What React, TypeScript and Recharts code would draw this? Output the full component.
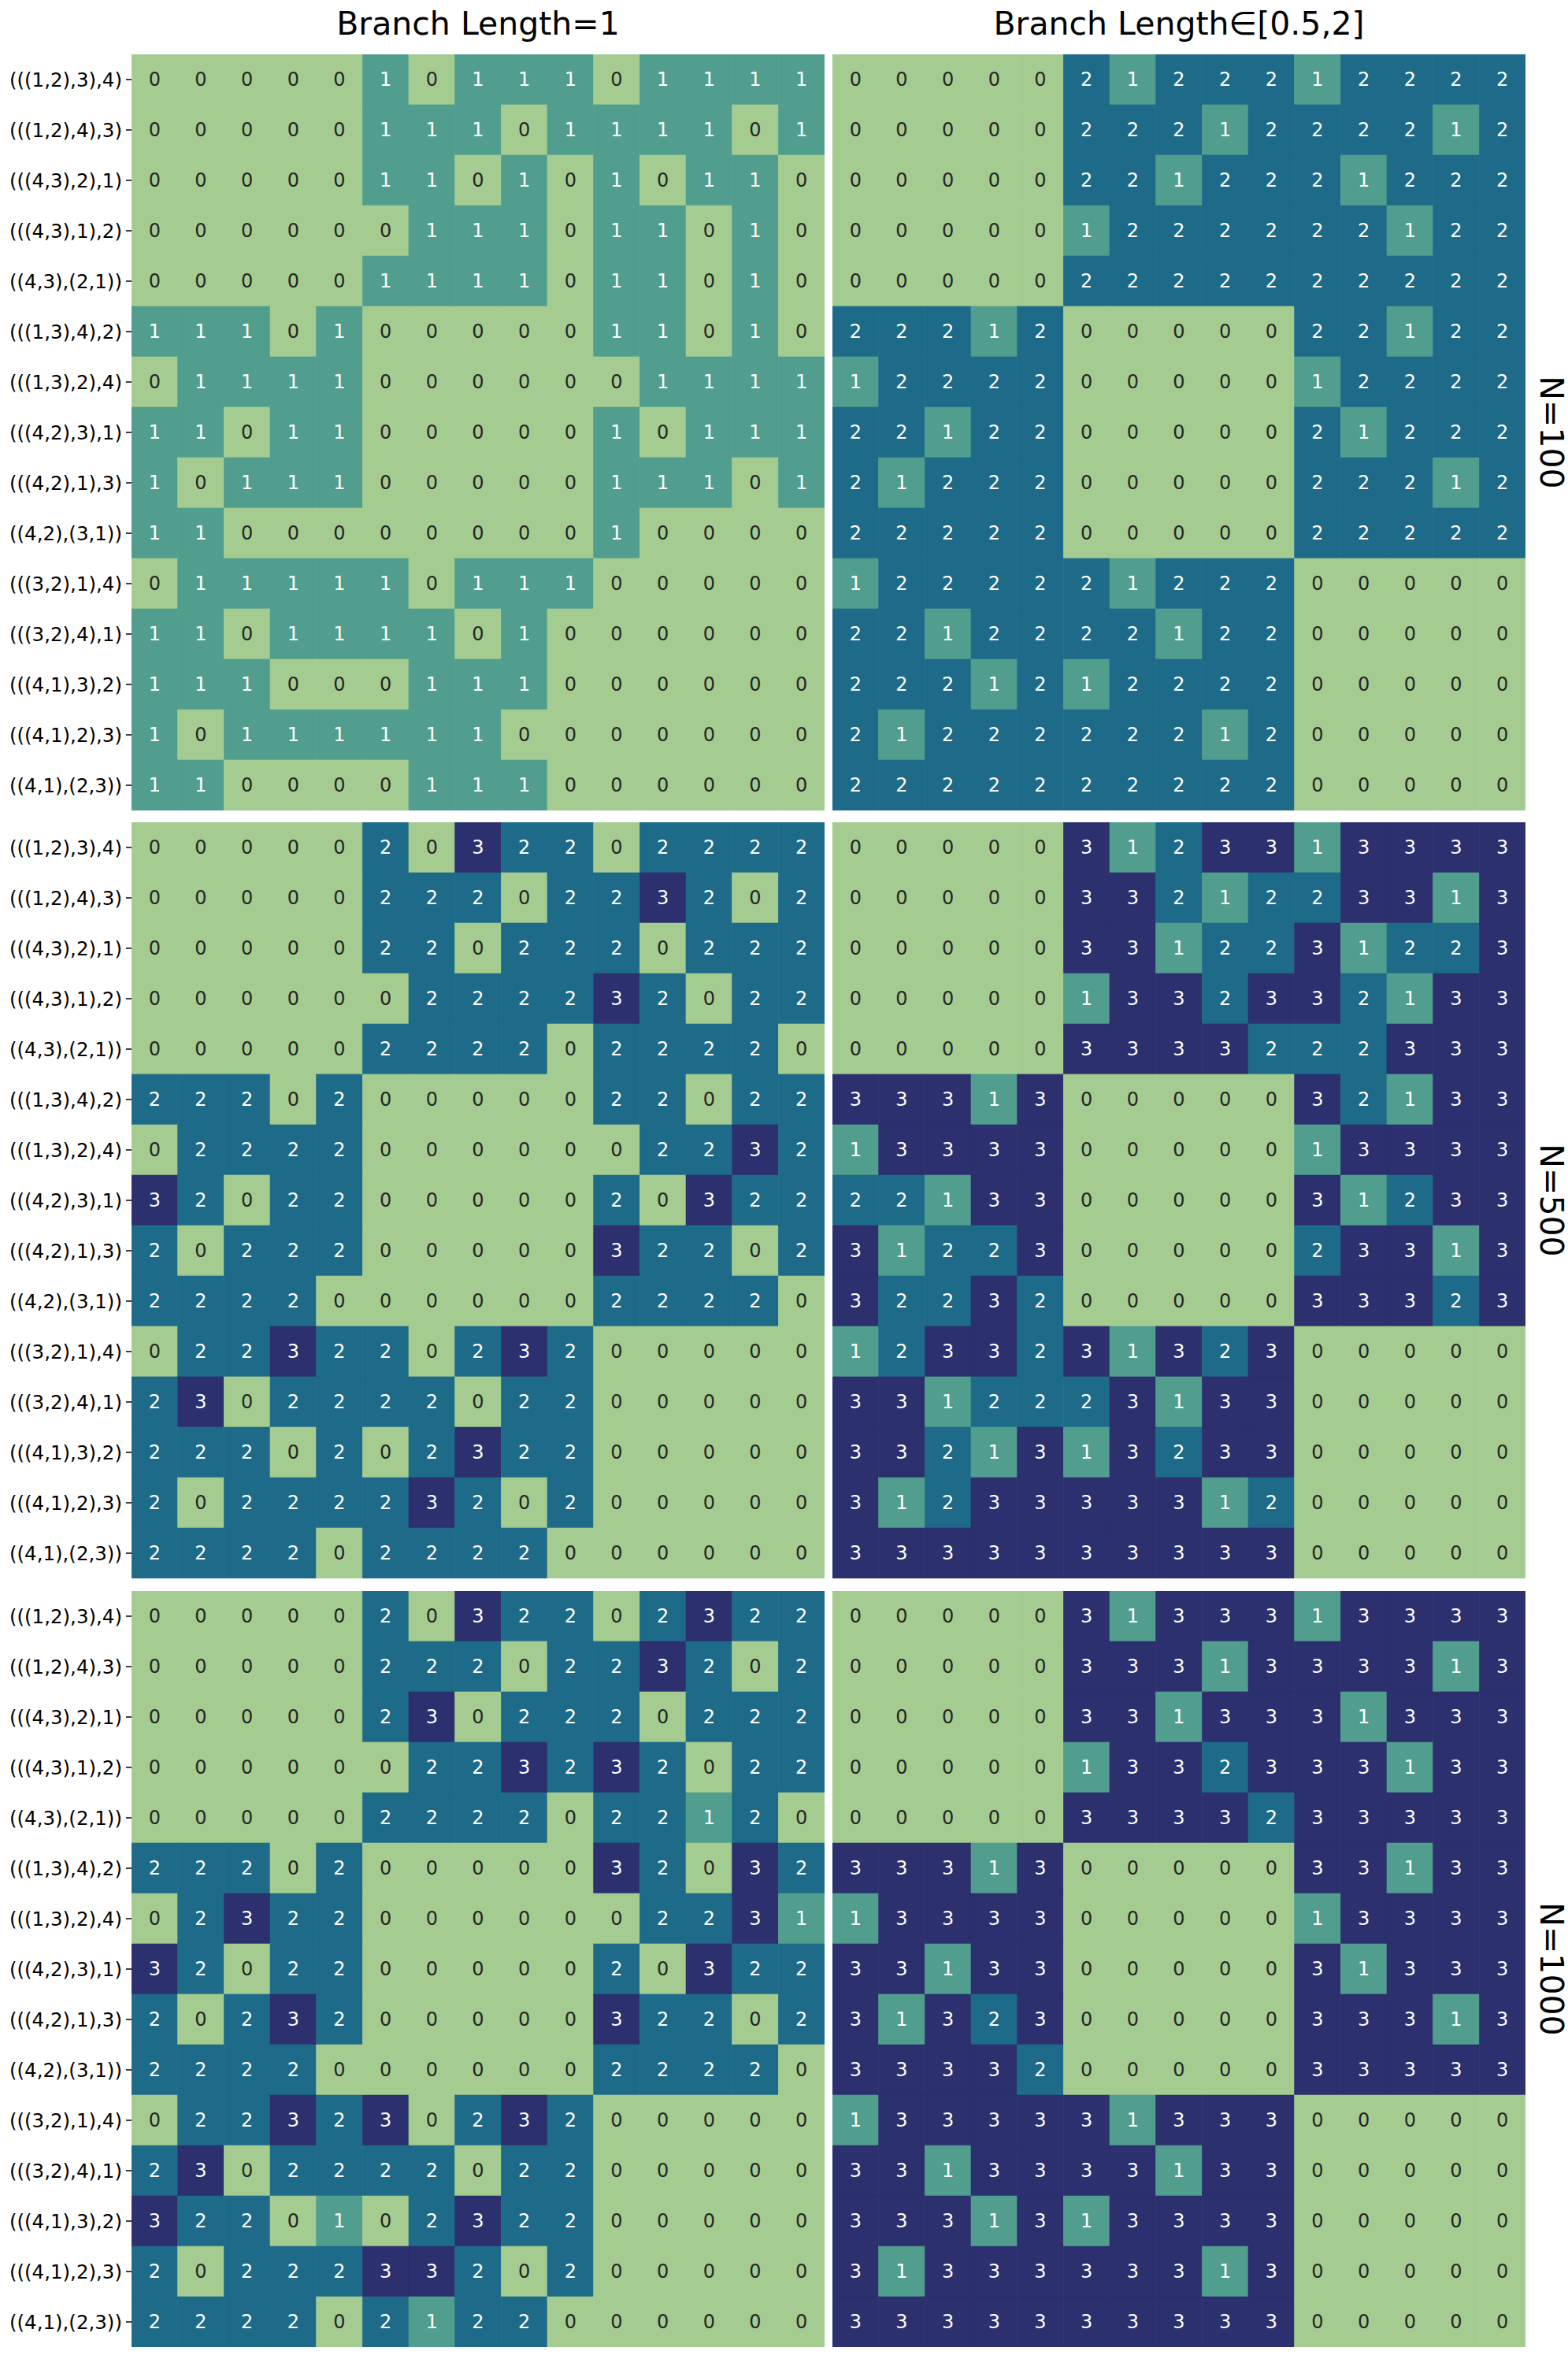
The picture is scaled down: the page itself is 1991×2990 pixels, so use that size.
import React from 'react';
import { ScatterChart, Scatter, XAxis, YAxis } from 'recharts';

// Topology labels shared by all panels (rows and columns in the same order)
const ROW_LABELS = [
  '(((1,2),3),4)', '(((1,2),4),3)', '(((4,3),2),1)', '(((4,3),1),2)', '((4,3),(2,1))',
  '(((1,3),4),2)', '(((1,3),2),4)', '(((4,2),3),1)', '(((4,2),1),3)', '((4,2),(3,1))',
  '(((3,2),1),4)', '(((3,2),4),1)', '(((4,1),3),2)', '(((4,1),2),3)', '((4,1),(2,3))',
];

const COLUMN_TITLES = ['Branch Length=1', 'Branch Length\u2208[0.5,2]'];
const ROW_TITLES = ['N=100', 'N=500', 'N=1000'];

// Branch length = 1
const fixedN100 = [
  [0, 0, 0, 0, 0, 1, 0, 1, 1, 1, 0, 1, 1, 1, 1],
  [0, 0, 0, 0, 0, 1, 1, 1, 0, 1, 1, 1, 1, 0, 1],
  [0, 0, 0, 0, 0, 1, 1, 0, 1, 0, 1, 0, 1, 1, 0],
  [0, 0, 0, 0, 0, 0, 1, 1, 1, 0, 1, 1, 0, 1, 0],
  [0, 0, 0, 0, 0, 1, 1, 1, 1, 0, 1, 1, 0, 1, 0],
  [1, 1, 1, 0, 1, 0, 0, 0, 0, 0, 1, 1, 0, 1, 0],
  [0, 1, 1, 1, 1, 0, 0, 0, 0, 0, 0, 1, 1, 1, 1],
  [1, 1, 0, 1, 1, 0, 0, 0, 0, 0, 1, 0, 1, 1, 1],
  [1, 0, 1, 1, 1, 0, 0, 0, 0, 0, 1, 1, 1, 0, 1],
  [1, 1, 0, 0, 0, 0, 0, 0, 0, 0, 1, 0, 0, 0, 0],
  [0, 1, 1, 1, 1, 1, 0, 1, 1, 1, 0, 0, 0, 0, 0],
  [1, 1, 0, 1, 1, 1, 1, 0, 1, 0, 0, 0, 0, 0, 0],
  [1, 1, 1, 0, 0, 0, 1, 1, 1, 0, 0, 0, 0, 0, 0],
  [1, 0, 1, 1, 1, 1, 1, 1, 0, 0, 0, 0, 0, 0, 0],
  [1, 1, 0, 0, 0, 0, 1, 1, 1, 0, 0, 0, 0, 0, 0],
];

const fixedN500 = [
  [0, 0, 0, 0, 0, 2, 0, 3, 2, 2, 0, 2, 2, 2, 2],
  [0, 0, 0, 0, 0, 2, 2, 2, 0, 2, 2, 3, 2, 0, 2],
  [0, 0, 0, 0, 0, 2, 2, 0, 2, 2, 2, 0, 2, 2, 2],
  [0, 0, 0, 0, 0, 0, 2, 2, 2, 2, 3, 2, 0, 2, 2],
  [0, 0, 0, 0, 0, 2, 2, 2, 2, 0, 2, 2, 2, 2, 0],
  [2, 2, 2, 0, 2, 0, 0, 0, 0, 0, 2, 2, 0, 2, 2],
  [0, 2, 2, 2, 2, 0, 0, 0, 0, 0, 0, 2, 2, 3, 2],
  [3, 2, 0, 2, 2, 0, 0, 0, 0, 0, 2, 0, 3, 2, 2],
  [2, 0, 2, 2, 2, 0, 0, 0, 0, 0, 3, 2, 2, 0, 2],
  [2, 2, 2, 2, 0, 0, 0, 0, 0, 0, 2, 2, 2, 2, 0],
  [0, 2, 2, 3, 2, 2, 0, 2, 3, 2, 0, 0, 0, 0, 0],
  [2, 3, 0, 2, 2, 2, 2, 0, 2, 2, 0, 0, 0, 0, 0],
  [2, 2, 2, 0, 2, 0, 2, 3, 2, 2, 0, 0, 0, 0, 0],
  [2, 0, 2, 2, 2, 2, 3, 2, 0, 2, 0, 0, 0, 0, 0],
  [2, 2, 2, 2, 0, 2, 2, 2, 2, 0, 0, 0, 0, 0, 0],
];

const fixedN1000 = [
  [0, 0, 0, 0, 0, 2, 0, 3, 2, 2, 0, 2, 3, 2, 2],
  [0, 0, 0, 0, 0, 2, 2, 2, 0, 2, 2, 3, 2, 0, 2],
  [0, 0, 0, 0, 0, 2, 3, 0, 2, 2, 2, 0, 2, 2, 2],
  [0, 0, 0, 0, 0, 0, 2, 2, 3, 2, 3, 2, 0, 2, 2],
  [0, 0, 0, 0, 0, 2, 2, 2, 2, 0, 2, 2, 1, 2, 0],
  [2, 2, 2, 0, 2, 0, 0, 0, 0, 0, 3, 2, 0, 3, 2],
  [0, 2, 3, 2, 2, 0, 0, 0, 0, 0, 0, 2, 2, 3, 1],
  [3, 2, 0, 2, 2, 0, 0, 0, 0, 0, 2, 0, 3, 2, 2],
  [2, 0, 2, 3, 2, 0, 0, 0, 0, 0, 3, 2, 2, 0, 2],
  [2, 2, 2, 2, 0, 0, 0, 0, 0, 0, 2, 2, 2, 2, 0],
  [0, 2, 2, 3, 2, 3, 0, 2, 3, 2, 0, 0, 0, 0, 0],
  [2, 3, 0, 2, 2, 2, 2, 0, 2, 2, 0, 0, 0, 0, 0],
  [3, 2, 2, 0, 1, 0, 2, 3, 2, 2, 0, 0, 0, 0, 0],
  [2, 0, 2, 2, 2, 3, 3, 2, 0, 2, 0, 0, 0, 0, 0],
  [2, 2, 2, 2, 0, 2, 1, 2, 2, 0, 0, 0, 0, 0, 0],
];

// Branch length in [0.5, 2]
const variableN100 = [
  [0, 0, 0, 0, 0, 2, 1, 2, 2, 2, 1, 2, 2, 2, 2],
  [0, 0, 0, 0, 0, 2, 2, 2, 1, 2, 2, 2, 2, 1, 2],
  [0, 0, 0, 0, 0, 2, 2, 1, 2, 2, 2, 1, 2, 2, 2],
  [0, 0, 0, 0, 0, 1, 2, 2, 2, 2, 2, 2, 1, 2, 2],
  [0, 0, 0, 0, 0, 2, 2, 2, 2, 2, 2, 2, 2, 2, 2],
  [2, 2, 2, 1, 2, 0, 0, 0, 0, 0, 2, 2, 1, 2, 2],
  [1, 2, 2, 2, 2, 0, 0, 0, 0, 0, 1, 2, 2, 2, 2],
  [2, 2, 1, 2, 2, 0, 0, 0, 0, 0, 2, 1, 2, 2, 2],
  [2, 1, 2, 2, 2, 0, 0, 0, 0, 0, 2, 2, 2, 1, 2],
  [2, 2, 2, 2, 2, 0, 0, 0, 0, 0, 2, 2, 2, 2, 2],
  [1, 2, 2, 2, 2, 2, 1, 2, 2, 2, 0, 0, 0, 0, 0],
  [2, 2, 1, 2, 2, 2, 2, 1, 2, 2, 0, 0, 0, 0, 0],
  [2, 2, 2, 1, 2, 1, 2, 2, 2, 2, 0, 0, 0, 0, 0],
  [2, 1, 2, 2, 2, 2, 2, 2, 1, 2, 0, 0, 0, 0, 0],
  [2, 2, 2, 2, 2, 2, 2, 2, 2, 2, 0, 0, 0, 0, 0],
];

const variableN500 = [
  [0, 0, 0, 0, 0, 3, 1, 2, 3, 3, 1, 3, 3, 3, 3],
  [0, 0, 0, 0, 0, 3, 3, 2, 1, 2, 2, 3, 3, 1, 3],
  [0, 0, 0, 0, 0, 3, 3, 1, 2, 2, 3, 1, 2, 2, 3],
  [0, 0, 0, 0, 0, 1, 3, 3, 2, 3, 3, 2, 1, 3, 3],
  [0, 0, 0, 0, 0, 3, 3, 3, 3, 2, 2, 2, 3, 3, 3],
  [3, 3, 3, 1, 3, 0, 0, 0, 0, 0, 3, 2, 1, 3, 3],
  [1, 3, 3, 3, 3, 0, 0, 0, 0, 0, 1, 3, 3, 3, 3],
  [2, 2, 1, 3, 3, 0, 0, 0, 0, 0, 3, 1, 2, 3, 3],
  [3, 1, 2, 2, 3, 0, 0, 0, 0, 0, 2, 3, 3, 1, 3],
  [3, 2, 2, 3, 2, 0, 0, 0, 0, 0, 3, 3, 3, 2, 3],
  [1, 2, 3, 3, 2, 3, 1, 3, 2, 3, 0, 0, 0, 0, 0],
  [3, 3, 1, 2, 2, 2, 3, 1, 3, 3, 0, 0, 0, 0, 0],
  [3, 3, 2, 1, 3, 1, 3, 2, 3, 3, 0, 0, 0, 0, 0],
  [3, 1, 2, 3, 3, 3, 3, 3, 1, 2, 0, 0, 0, 0, 0],
  [3, 3, 3, 3, 3, 3, 3, 3, 3, 3, 0, 0, 0, 0, 0],
];

const variableN1000 = [
  [0, 0, 0, 0, 0, 3, 1, 3, 3, 3, 1, 3, 3, 3, 3],
  [0, 0, 0, 0, 0, 3, 3, 3, 1, 3, 3, 3, 3, 1, 3],
  [0, 0, 0, 0, 0, 3, 3, 1, 3, 3, 3, 1, 3, 3, 3],
  [0, 0, 0, 0, 0, 1, 3, 3, 2, 3, 3, 3, 1, 3, 3],
  [0, 0, 0, 0, 0, 3, 3, 3, 3, 2, 3, 3, 3, 3, 3],
  [3, 3, 3, 1, 3, 0, 0, 0, 0, 0, 3, 3, 1, 3, 3],
  [1, 3, 3, 3, 3, 0, 0, 0, 0, 0, 1, 3, 3, 3, 3],
  [3, 3, 1, 3, 3, 0, 0, 0, 0, 0, 3, 1, 3, 3, 3],
  [3, 1, 3, 2, 3, 0, 0, 0, 0, 0, 3, 3, 3, 1, 3],
  [3, 3, 3, 3, 2, 0, 0, 0, 0, 0, 3, 3, 3, 3, 3],
  [1, 3, 3, 3, 3, 3, 1, 3, 3, 3, 0, 0, 0, 0, 0],
  [3, 3, 1, 3, 3, 3, 3, 1, 3, 3, 0, 0, 0, 0, 0],
  [3, 3, 3, 1, 3, 1, 3, 3, 3, 3, 0, 0, 0, 0, 0],
  [3, 1, 3, 3, 3, 3, 3, 3, 1, 3, 0, 0, 0, 0, 0],
  [3, 3, 3, 3, 3, 3, 3, 3, 3, 3, 0, 0, 0, 0, 0],
];

// crest-like palette, one colour per value 0..3
const PALETTE = ['#a5cc90', '#519e8f', '#1e6b89', '#2c306e'];
const FONT = '"DejaVu Sans", sans-serif';

const LABEL_W = 167;
const PLOT_W = 880;
const PLOT_H = 960;
const ROW_TOPS = [69, 1044, 2020];
const COL_LEFTS = [0, 1057];

interface HeatmapProps {
  matrix: number[][];
  left: number;
  top: number;
  showLabels: boolean;
}

function Heatmap({ matrix, left, top, showLabels }: HeatmapProps) {
  const n = matrix.length;
  const axisW = showLabels ? LABEL_W : 0;
  const cellW = PLOT_W / n;
  const cellH = PLOT_H / n;

  const points = matrix.flatMap((row, r) => row.map((v, c) => ({ x: c, y: r, v })));

  // draw one cell centred on the point the scales give us
  const renderCell = (props: any) => {
    const { cx, cy, payload } = props;
    const fill = PALETTE[payload.v];
    return (
      <g>
        <rect
          x={cx - cellW / 2}
          y={cy - cellH / 2}
          width={cellW}
          height={cellH}
          fill={fill}
          stroke={fill}
          strokeWidth={0.6}
        />
        <text
          x={cx}
          y={cy}
          textAnchor="middle"
          dominantBaseline="central"
          fontSize={24}
          fontFamily={FONT}
          fill={payload.v === 0 ? '#262626' : '#ffffff'}
        >
          {payload.v}
        </text>
      </g>
    );
  };

  return (
    <div style={{ position: 'absolute', left, top }}>
      <ScatterChart
        width={axisW + PLOT_W}
        height={PLOT_H}
        margin={{ top: 0, right: 0, bottom: 0, left: 0 }}
      >
        <XAxis type="number" dataKey="x" domain={[-0.5, n - 0.5]} allowDataOverflow hide />
        <YAxis
          type="number"
          dataKey="y"
          domain={[-0.5, n - 0.5]}
          allowDataOverflow
          reversed
          hide={!showLabels}
          width={axisW}
          ticks={ROW_LABELS.map((_, i) => i)}
          interval={0}
          tickFormatter={(i: number) => ROW_LABELS[i] ?? ''}
          axisLine={false}
          tickLine={{ stroke: '#000', strokeWidth: 1.5 }}
          tickSize={7}
          tickMargin={5}
          tick={{ fontSize: 24.5, fill: '#000', fontFamily: FONT }}
        />
        <Scatter data={points} shape={renderCell} isAnimationActive={false} />
      </ScatterChart>
    </div>
  );
}

export default function App() {
  const grid = [
    [fixedN100, variableN100],
    [fixedN500, variableN500],
    [fixedN1000, variableN1000],
  ];

  return (
    <div style={{ position: 'absolute', left: 0, top: 0, width: 1991, height: 2990, background: '#fff' }}>
      {grid.map((pair, r) =>
        pair.map((matrix, c) => (
          <Heatmap
            key={`${r}-${c}`}
            matrix={matrix}
            left={COL_LEFTS[c]}
            top={ROW_TOPS[r]}
            showLabels={c === 0}
          />
        ))
      )}

      {/* Column titles and row (sample size) labels */}
      <svg
        width={1991}
        height={2990}
        style={{ position: 'absolute', left: 0, top: 0, pointerEvents: 'none' }}
      >
        {COLUMN_TITLES.map((t, c) => (
          <text
            key={t}
            x={COL_LEFTS[c] + (c === 0 ? LABEL_W : 0) + PLOT_W / 2}
            y={44}
            textAnchor="middle"
            fontSize={41}
            fontFamily={FONT}
            fill="#000"
          >
            {t}
          </text>
        ))}
        {ROW_TITLES.map((t, r) => {
          const x = 1970;
          const y = ROW_TOPS[r] + PLOT_H / 2;
          return (
            <text
              key={t}
              x={x}
              y={y}
              textAnchor="middle"
              dominantBaseline="central"
              fontSize={41}
              fontFamily={FONT}
              fill="#000"
              transform={`rotate(90 ${x} ${y})`}
            >
              {t}
            </text>
          );
        })}
      </svg>
    </div>
  );
}
